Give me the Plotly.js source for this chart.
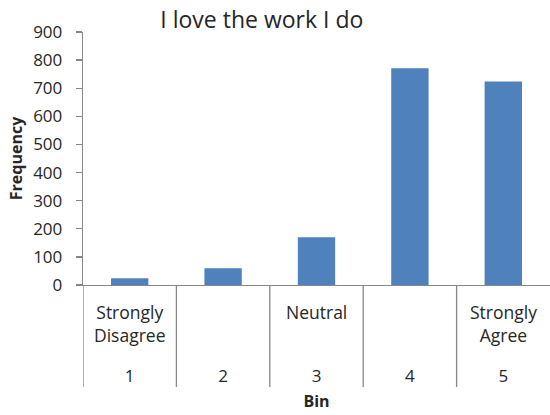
<!DOCTYPE html>
<html>
<head>
<meta charset="utf-8">
<script src="https://cdn.plot.ly/plotly-3.0.1.min.js"></script>
<style>html,body{margin:0;padding:0;background:#fff;}#chart{width:550px;height:415px;}</style>
</head>
<body>
<div id="chart"></div>
<script>
const bins = ['1', '2', '3', '4', '5'];
const binLabels = ['Strongly<br>Disagree', '', 'Neutral', '', 'Strongly<br>Agree'];
const frequency = [24, 60, 170, 771, 724];
const yTicks = [0, 100, 200, 300, 400, 500, 600, 700, 800, 900];

const axisGray = '#868686';
const textColor = '#262626';
const font = 'Open Sans, Liberation Sans, sans-serif';

const shapes = bins.map((b, i) => ({
  type: 'line', xref: 'x', yref: 'paper',
  x0: i - 0.5, x1: i - 0.5, y0: 0, y1: -0.403,
  line: {color: axisGray, width: 1.3}
}));

const annotations = bins.map((b, i) => ({
  xref: 'x', yref: 'paper', x: i, y: -0.052,
  xanchor: 'center', yanchor: 'top',
  text: binLabels[i], showarrow: false,
  font: {family: font, size: 17.5, color: textColor}
}));

const trace = {
  type: 'bar', x: bins, y: frequency, width: 0.4,
  marker: {color: '#4F81BD', line: {width: 0}},
  hoverinfo: 'none'
};

const layout = {
  width: 550, height: 415,
  margin: {l: 83, r: 0, t: 32, b: 130},
  paper_bgcolor: '#fff', plot_bgcolor: '#fff',
  showlegend: false,
  title: {
    text: 'I love the work I do', xref: 'container', yref: 'container',
    x: 0.476, y: 0.952, xanchor: 'center', yanchor: 'middle',
    font: {family: font, size: 23, color: textColor}
  },
  xaxis: {
    type: 'category', range: [-0.5, 4.5],
    showline: true, linecolor: axisGray, linewidth: 1.3,
    ticks: '', showgrid: false, zeroline: false,
    tickfont: {family: font, size: 17, color: textColor},
    ticklabelstandoff: 75,
    title: {text: 'Bin', standoff: 10, font: {family: font, size: 16, color: textColor, weight: 'bold'}}
  },
  yaxis: {
    range: [0, 900], tickvals: yTicks, ticktext: yTicks.map(String),
    showline: true, linecolor: axisGray, linewidth: 1.3,
    ticks: 'outside', ticklen: 6, tickcolor: axisGray, tickwidth: 1.3,
    showgrid: false, zeroline: false,
    tickfont: {family: font, size: 17, color: textColor},
    ticklabelstandoff: 10,
    title: {text: 'Frequency', standoff: 6, font: {family: font, size: 16, color: textColor, weight: 'bold'}}
  },
  shapes: shapes,
  annotations: annotations
};

Plotly.newPlot('chart', [trace], layout, {displayModeBar: false, staticPlot: true});
</script>
</body>
</html>
